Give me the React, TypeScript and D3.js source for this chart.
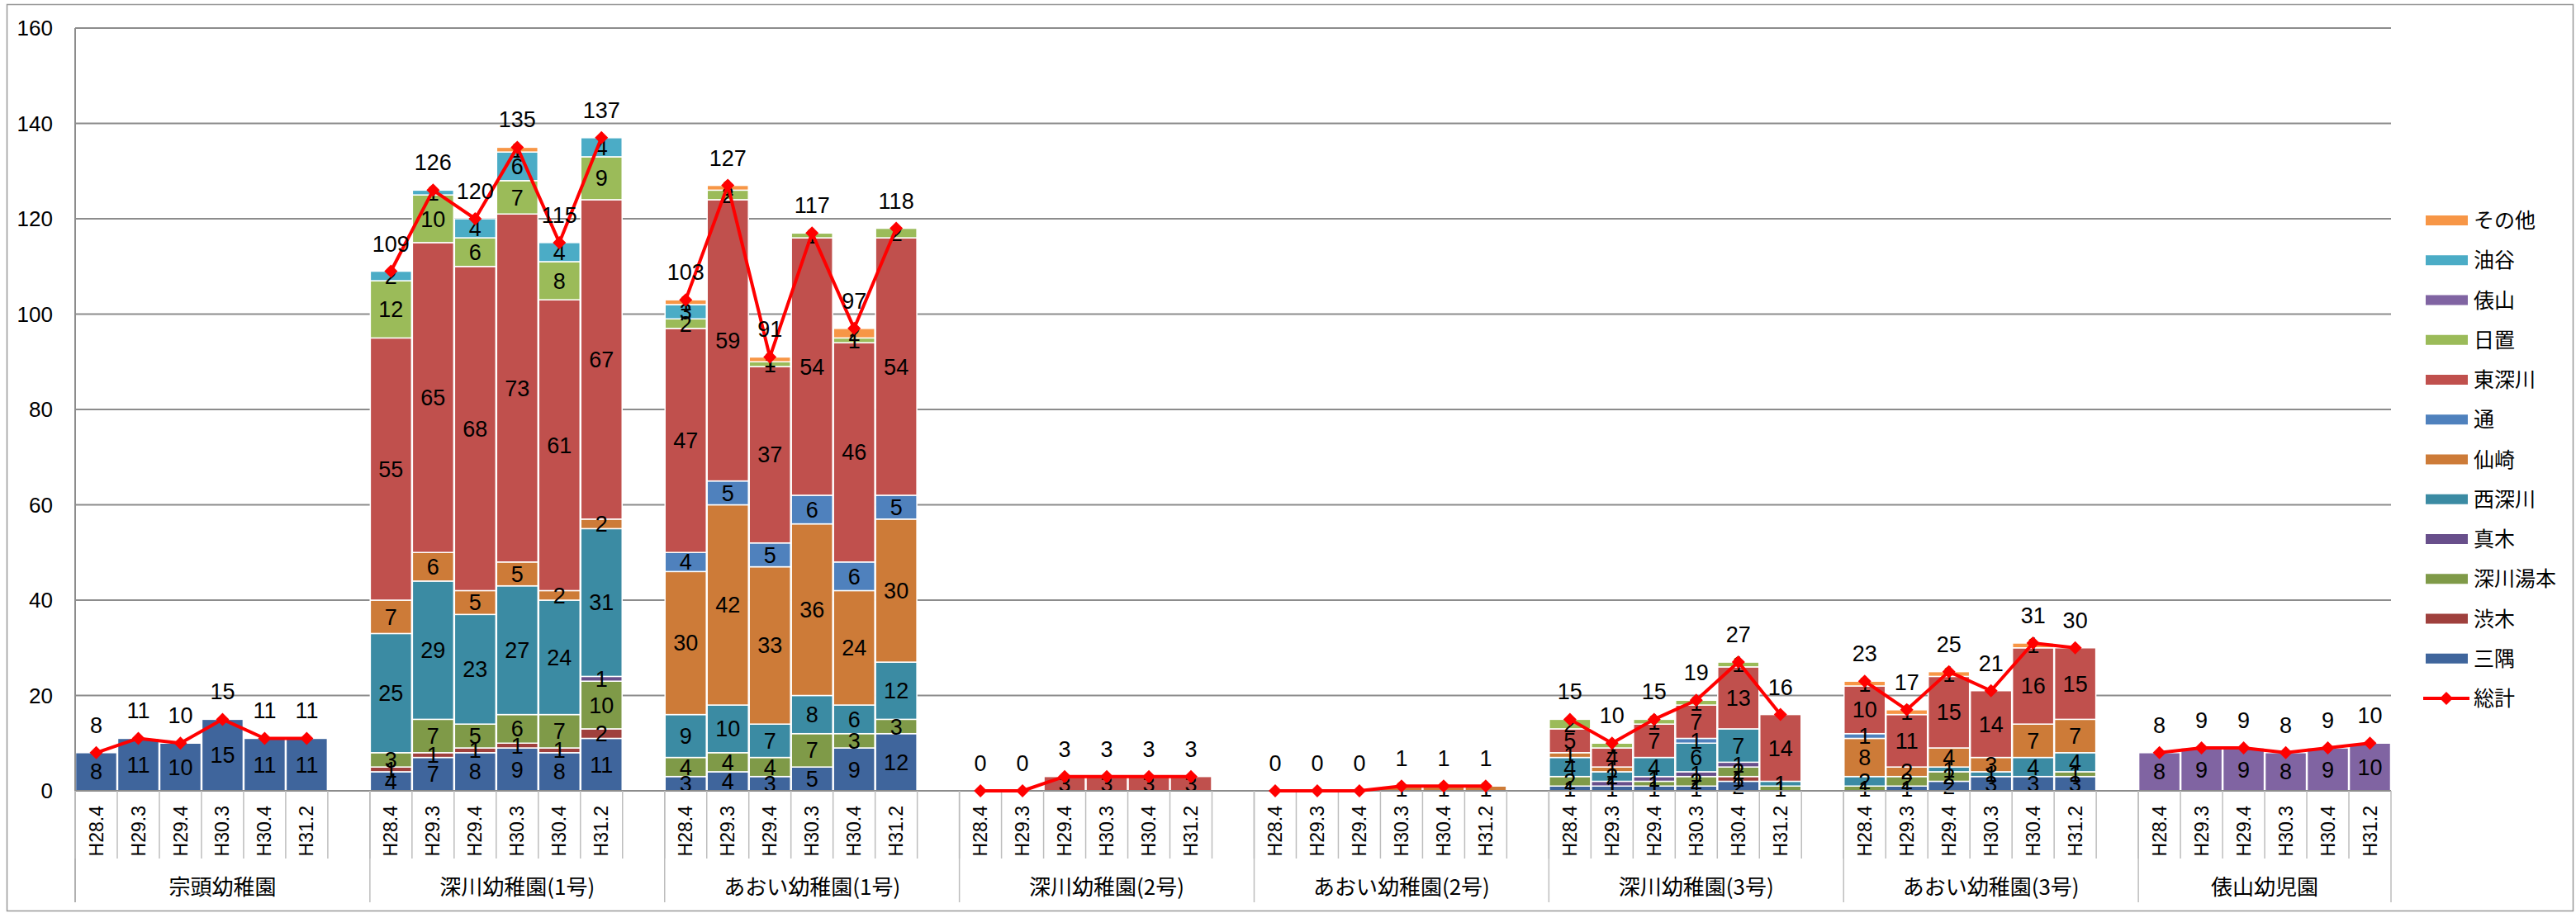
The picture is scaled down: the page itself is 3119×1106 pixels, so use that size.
import React from 'react';
import * as d3 from 'd3';

// Categories
const groups = [
  '宗頭幼稚園',
  '深川幼稚園(1号)',
  'あおい幼稚園(1号)',
  '深川幼稚園(2号)',
  'あおい幼稚園(2号)',
  '深川幼稚園(3号)',
  'あおい幼稚園(3号)',
  '俵山幼児園',
];
const periods = ['H28.4', 'H29.3', 'H29.4', 'H30.3', 'H30.4', 'H31.2'];

// Series values, 6 periods per group, groups in the order above
const misumi = [8, 11, 10, 15, 11, 11, 4, 7, 8, 9, 8, 11, 3, 4, 3, 5, 9, 12, 0, 0, 0, 0, 0, 0, 0, 0, 0, 0, 0, 0, 1, 1, 1, 1, 2, 0, 0, 1, 2, 3, 3, 3, 0, 0, 0, 0, 0, 0];
const shibuki = [0, 0, 0, 0, 0, 0, 1, 1, 1, 1, 1, 2, 0, 0, 0, 0, 0, 0, 0, 0, 0, 0, 0, 0, 0, 0, 0, 0, 0, 0, 0, 0, 0, 0, 1, 0, 0, 0, 0, 0, 0, 0, 0, 0, 0, 0, 0, 0];
const yumoto = [0, 0, 0, 0, 0, 0, 3, 7, 5, 6, 7, 10, 4, 4, 4, 7, 3, 3, 0, 0, 0, 0, 0, 0, 0, 0, 0, 0, 0, 0, 2, 0, 1, 2, 2, 1, 1, 2, 2, 0, 0, 1, 0, 0, 0, 0, 0, 0];
const maki = [0, 0, 0, 0, 0, 0, 0, 0, 0, 0, 0, 1, 0, 0, 0, 0, 0, 0, 0, 0, 0, 0, 0, 0, 0, 0, 0, 0, 0, 0, 0, 1, 1, 1, 1, 0, 0, 0, 0, 0, 0, 0, 0, 0, 0, 0, 0, 0];
const nishiFukawa = [0, 0, 0, 0, 0, 0, 25, 29, 23, 27, 24, 31, 9, 10, 7, 8, 6, 12, 0, 0, 0, 0, 0, 0, 0, 0, 0, 0, 0, 0, 4, 2, 4, 6, 7, 1, 2, 0, 1, 1, 4, 4, 0, 0, 0, 0, 0, 0];
const senzaki = [0, 0, 0, 0, 0, 0, 7, 6, 5, 5, 2, 2, 30, 42, 33, 36, 24, 30, 0, 0, 0, 0, 0, 0, 0, 0, 0, 1, 1, 1, 1, 1, 0, 0, 0, 0, 8, 2, 4, 3, 7, 7, 0, 0, 0, 0, 0, 0];
const kayoi = [0, 0, 0, 0, 0, 0, 0, 0, 0, 0, 0, 0, 4, 5, 5, 6, 6, 5, 0, 0, 0, 0, 0, 0, 0, 0, 0, 0, 0, 0, 0, 0, 0, 1, 0, 0, 1, 0, 0, 0, 0, 0, 0, 0, 0, 0, 0, 0];
const higashiFukawa = [0, 0, 0, 0, 0, 0, 55, 65, 68, 73, 61, 67, 47, 59, 37, 54, 46, 54, 0, 0, 3, 3, 3, 3, 0, 0, 0, 0, 0, 0, 5, 4, 7, 7, 13, 14, 10, 11, 15, 14, 16, 15, 0, 0, 0, 0, 0, 0];
const heki = [0, 0, 0, 0, 0, 0, 12, 10, 6, 7, 8, 9, 2, 2, 1, 1, 1, 2, 0, 0, 0, 0, 0, 0, 0, 0, 0, 0, 0, 0, 2, 1, 1, 1, 1, 0, 0, 0, 0, 0, 0, 0, 0, 0, 0, 0, 0, 0];
const tawarayama = [0, 0, 0, 0, 0, 0, 0, 0, 0, 0, 0, 0, 0, 0, 0, 0, 0, 0, 0, 0, 0, 0, 0, 0, 0, 0, 0, 0, 0, 0, 0, 0, 0, 0, 0, 0, 0, 0, 0, 0, 0, 0, 8, 9, 9, 8, 9, 10];
const yuya = [0, 0, 0, 0, 0, 0, 2, 1, 4, 6, 4, 4, 3, 0, 0, 0, 0, 0, 0, 0, 0, 0, 0, 0, 0, 0, 0, 0, 0, 0, 0, 0, 0, 0, 0, 0, 0, 0, 0, 0, 0, 0, 0, 0, 0, 0, 0, 0];
const sonota = [0, 0, 0, 0, 0, 0, 0, 0, 0, 1, 0, 0, 1, 1, 1, 0, 2, 0, 0, 0, 0, 0, 0, 0, 0, 0, 0, 0, 0, 0, 0, 0, 0, 0, 0, 0, 1, 1, 1, 0, 1, 0, 0, 0, 0, 0, 0, 0];

const seriesNames = ['三隅', '渋木', '深川湯本', '真木', '西深川', '仙崎', '通', '東深川', '日置', '俵山', '油谷', 'その他'];
const seriesValues = [misumi, shibuki, yumoto, maki, nishiFukawa, senzaki, kayoi, higashiFukawa, heki, tawarayama, yuya, sonota];
const seriesColors = ['#3f659c', '#9f403d', '#7f9a48', '#684f8b', '#3b8ba3', '#cd7b38', '#4f81bd', '#c0504d', '#9bbb59', '#8064a2', '#4bacc6', '#f79646'];
const totalName = '総計';

const yTicks = [0, 20, 40, 60, 80, 100, 120, 140, 160];

const W = 3119;
const H = 1106;
const margin = { left: 91, right: 2895, top: 34, bottom: 958 };

const numFont = "'Liberation Sans Narrow', 'Liberation Sans', Arial, sans-serif";
const cjkFont = "'Noto Sans CJK JP', sans-serif";

// one row per bar
const rows = groups.flatMap((g, gi) =>
  periods.map((p, pi) => {
    const row: any = { key: `${gi}|${pi}`, group: gi, period: p };
    seriesNames.forEach((s, si) => {
      row[s] = seriesValues[si][gi * periods.length + pi];
    });
    row.total = d3.sum(seriesNames, (s) => row[s]);
    return row;
  }),
);

// slot keys: 6 bars per group plus an empty slot between groups
const slotKeys: string[] = [];
groups.forEach((g, gi) => {
  periods.forEach((p, pi) => slotKeys.push(`${gi}|${pi}`));
  if (gi < groups.length - 1) slotKeys.push(`gap${gi}`);
});

export default function App() {
  const x = d3.scaleBand<string>().domain(slotKeys).range([margin.left, margin.right]).paddingInner(0).paddingOuter(0);
  const y = d3.scaleLinear().domain([0, 160]).range([margin.bottom, margin.top]);
  const bw = x.bandwidth();

  const stacked = d3.stack<any>().keys(seriesNames)(rows);
  const line = d3
    .line<any>()
    .x((d) => x(d.key)! + bw / 2)
    .y((d) => y(d.total));

  const diamond = 'M0,-8L8,0L0,8L-8,0Z';

  const groupStart = (gi: number) => x(`${gi}|0`)!;
  const groupEnd = (gi: number) => (gi < groups.length - 1 ? groupStart(gi + 1) : margin.right);

  const legendItems = [...seriesNames].map((s, i) => ({ name: s, color: seriesColors[i] })).reverse();

  return (
    <svg width={W} height={H} style={{ position: 'absolute', left: 0, top: 0, background: '#fff' }}>
      {/* chart border */}
      <rect x={8.5} y={5.5} width={W - 12} height={H - 8} fill="none" stroke="#999" strokeWidth={1.5} />

      {/* gridlines */}
      {yTicks.map((t) => (
        <line key={t} x1={margin.left} x2={margin.right} y1={y(t)} y2={y(t)} stroke="#8c8c8c" strokeWidth={2} />
      ))}
      {yTicks.map((t) => (
        <text key={`yl${t}`} x={64} y={y(t) + 9} textAnchor="end" fontFamily={numFont} fontSize={26} fill="#000">
          {t}
        </text>
      ))}

      {/* bars */}
      {stacked.map((layer, si) => (
        <g key={layer.key} fill={seriesColors[si]}>
          {layer.map((d) =>
            d[1] - d[0] > 0 ? (
              <rect
                key={d.data.key}
                x={x(d.data.key)! + 0.5}
                width={bw - 1}
                y={y(d[1])}
                height={y(d[0]) - y(d[1])}
                stroke="#fff"
                strokeWidth={1.5}
              />
            ) : null,
          )}
        </g>
      ))}
      {stacked.map((layer) => (
        <g key={`lab${layer.key}`}>
          {layer.map((d) =>
            d[1] - d[0] > 0 ? (
              <text
                key={d.data.key}
                x={x(d.data.key)! + bw / 2}
                y={(y(d[1]) + y(d[0])) / 2 + 9.5}
                textAnchor="middle"
                fontFamily={numFont}
                fontSize={27}
                fill="#000"
              >
                {d[1] - d[0]}
              </text>
            ) : null,
          )}
        </g>
      ))}

      {/* axis lines */}
      <line x1={margin.left} x2={margin.left} y1={margin.top} y2={1093} stroke="#8c8c8c" strokeWidth={2} />
      <line x1={margin.left} x2={margin.right} y1={margin.bottom} y2={margin.bottom} stroke="#8c8c8c" strokeWidth={2} />
      {slotKeys.map((k) => (
        <line key={`t${k}`} x1={x(k)!} x2={x(k)!} y1={margin.bottom} y2={1040} stroke="#bdbdbd" strokeWidth={1.5} />
      ))}
      {groups.map((g, gi) => (
        <line key={`gl${gi}`} x1={groupStart(gi)} x2={groupStart(gi)} y1={margin.bottom} y2={1093} stroke="#bdbdbd" strokeWidth={1.5} />
      ))}
      <line x1={margin.right} x2={margin.right} y1={margin.bottom} y2={1093} stroke="#bdbdbd" strokeWidth={1.5} />

      {rows.map((r) => (
        <text
          key={`c${r.key}`}
          transform={`translate(${x(r.key)! + bw / 2},976) rotate(-90)`}
          dy="0.35em"
          textAnchor="end"
          fontFamily="'Liberation Sans', Arial, sans-serif"
          fontSize={23}
          fill="#000"
        >
          {r.period}
        </text>
      ))}
      {groups.map((g, gi) => (
        <text
          key={`g${gi}`}
          x={(groupStart(gi) + groupEnd(gi)) / 2}
          y={1084}
          textAnchor="middle"
          fontFamily={cjkFont}
          fontSize={26}
          fill="#000"
        >
          {g}
        </text>
      ))}

      {/* total line */}
      {groups.map((g, gi) => {
        const pts = rows.filter((r) => r.group === gi);
        return (
          <g key={`tot${gi}`}>
            <path d={line(pts)!} fill="none" stroke="#ff0000" strokeWidth={4} strokeLinejoin="round" />
            {pts.map((r) => (
              <path key={r.key} d={diamond} transform={`translate(${x(r.key)! + bw / 2},${y(r.total)})`} fill="#ff0000" />
            ))}
            {pts.map((r) => (
              <text
                key={`tl${r.key}`}
                x={x(r.key)! + bw / 2}
                y={y(r.total) - 24}
                textAnchor="middle"
                fontFamily={numFont}
                fontSize={27}
                fill="#000"
              >
                {r.total}
              </text>
            ))}
          </g>
        );
      })}

      {/* legend */}
      {legendItems.map((it, i) => {
        const cy = 267 + i * 48.25;
        return (
          <g key={it.name}>
            <rect x={2937} y={cy - 6} width={51} height={12} fill={it.color} />
            <text x={2995} y={cy + 9} fontFamily={cjkFont} fontSize={25} fill="#000">
              {it.name}
            </text>
          </g>
        );
      })}
      <g>
        <line x1={2934} x2={2990} y1={267 + 12 * 48.25} y2={267 + 12 * 48.25} stroke="#ff0000" strokeWidth={4} />
        <path d={diamond} transform={`translate(2962,${267 + 12 * 48.25})`} fill="#ff0000" />
        <text x={2995} y={267 + 12 * 48.25 + 9} fontFamily={cjkFont} fontSize={25} fill="#000">
          {totalName}
        </text>
      </g>
    </svg>
  );
}
